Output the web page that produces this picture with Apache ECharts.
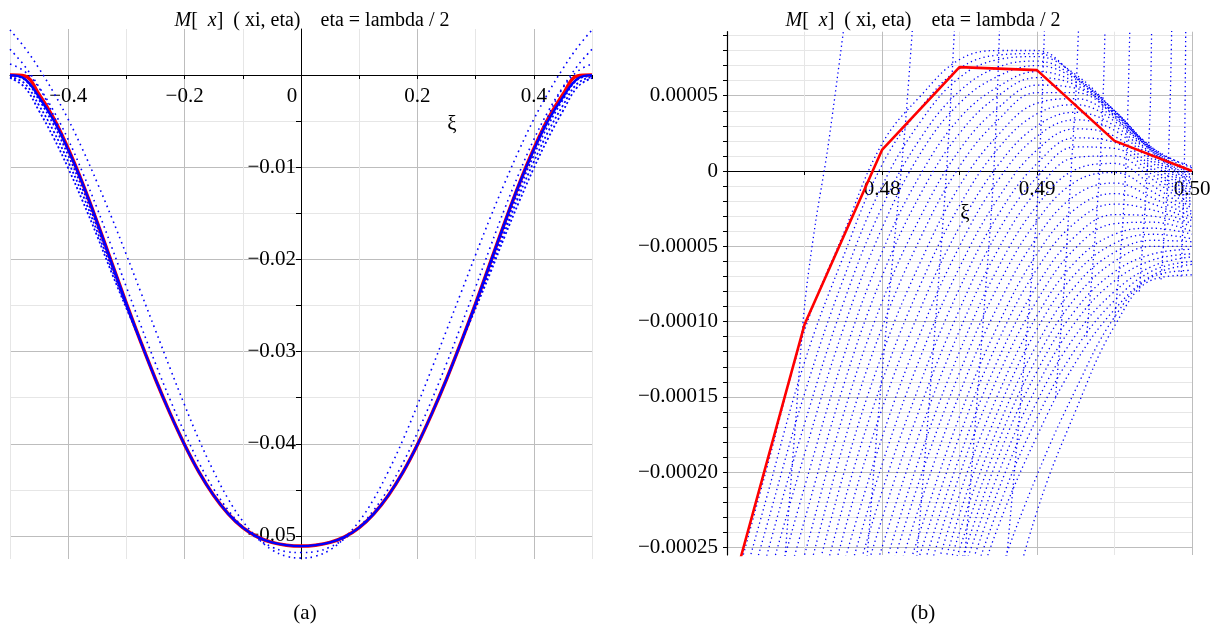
<!DOCTYPE html>
<html><head><meta charset="utf-8">
<script src="https://cdn.jsdelivr.net/npm/echarts@6/dist/echarts.min.js"></script>
<style>html,body{margin:0;padding:0;background:#fff}#c{width:1224px;height:626px}</style>
</head><body><div id="c"></div>
<script>
// ---------- panel (a): M_x(xi, eta), eta = lambda/2 ----------
const L_XI = [-0.5,-0.475,-0.45,-0.425,-0.4,-0.375,-0.35,-0.325,-0.3,-0.275,-0.25,-0.225,-0.2,-0.175,-0.15,-0.125,-0.1,-0.075,-0.05,-0.025,0,
  0.025,0.05,0.075,0.1,0.125,0.15,0.175,0.2,0.225,0.25,0.275,0.3,0.325,0.35,0.375,0.4,0.425,0.45,0.475,0.5];
const L_RED = [0.0000,-0.0001,-0.0021,-0.0047,-0.0080,-0.0118,-0.0160,-0.0204,-0.0248,-0.0290,-0.0330,-0.0367,-0.0401,-0.0431,-0.0456,-0.0476,-0.0491,-0.0501,-0.0507,-0.0510,-0.0511,
  -0.0510,-0.0507,-0.0501,-0.0491,-0.0476,-0.0456,-0.0431,-0.0401,-0.0367,-0.0330,-0.0290,-0.0248,-0.0204,-0.0160,-0.0118,-0.0080,-0.0047,-0.0021,-0.0001,0.0000];
const L_BAND = [0.0000,-0.0004,-0.0024,-0.0049,-0.0081,-0.0118,-0.0160,-0.0204,-0.0248,-0.0290,-0.0330,-0.0367,-0.0401,-0.0431,-0.0456,-0.0476,-0.0491,-0.0501,-0.0507,-0.0510,-0.0511,
  -0.0510,-0.0507,-0.0501,-0.0491,-0.0476,-0.0456,-0.0431,-0.0401,-0.0367,-0.0330,-0.0290,-0.0248,-0.0204,-0.0160,-0.0118,-0.0081,-0.0049,-0.0024,-0.0004,0.0000];
const L_A = [0.0049,0.0030,0.0007,-0.0019,-0.0048,-0.0081,-0.0117,-0.0155,-0.0195,-0.0236,-0.0277,-0.0318,-0.0358,-0.0396,-0.0430,-0.0460,-0.0484,-0.0502,-0.0515,-0.0522,-0.0524,
  -0.0522,-0.0515,-0.0502,-0.0484,-0.0460,-0.0430,-0.0396,-0.0358,-0.0318,-0.0277,-0.0236,-0.0195,-0.0155,-0.0117,-0.0081,-0.0048,-0.0019,0.0007,0.0030,0.0049];
const L_B = [0.0028,0.0010,-0.0013,-0.0039,-0.0070,-0.0106,-0.0145,-0.0187,-0.0230,-0.0272,-0.0313,-0.0352,-0.0388,-0.0421,-0.0449,-0.0472,-0.0490,-0.0503,-0.0512,-0.0517,-0.0518,
  -0.0517,-0.0512,-0.0503,-0.0490,-0.0472,-0.0449,-0.0421,-0.0388,-0.0352,-0.0313,-0.0272,-0.0230,-0.0187,-0.0145,-0.0106,-0.0070,-0.0039,-0.0013,0.0010,0.0028];
const L_C = [0.0012,0.0004,-0.0014,-0.0044,-0.0080,-0.0118,null,null,null,null,null,null,null,null,null,null,null,null,null,null,null,
  null,null,null,null,null,null,null,null,null,null,null,null,null,null,-0.0118,-0.0080,-0.0044,-0.0014,0.0004,0.0012];
const L_COMB1 = [-0.0001,-0.0005,-0.0027,-0.0054,-0.0087,-0.0124,-0.0165,-0.0207,-0.0249,-0.0290,null,null,null,null,null,null,null,null,null,null,null,
  null,null,null,null,null,null,null,null,null,null,-0.0290,-0.0249,-0.0207,-0.0165,-0.0124,-0.0087,-0.0054,-0.0027,-0.0005,-0.0001];
const L_COMB2 = [-0.0002,-0.0009,-0.0033,-0.0061,-0.0094,-0.0130,-0.0170,-0.0211,-0.0251,-0.0290,null,null,null,null,null,null,null,null,null,null,null,
  null,null,null,null,null,null,null,null,null,null,-0.0290,-0.0251,-0.0211,-0.0170,-0.0130,-0.0094,-0.0061,-0.0033,-0.0009,-0.0002];
const L_COMB3 = [-0.0003,-0.0013,-0.0039,-0.0068,-0.0101,-0.0137,-0.0175,-0.0215,-0.0253,-0.0290,null,null,null,null,null,null,null,null,null,null,null,
  null,null,null,null,null,null,null,null,null,null,-0.0290,-0.0253,-0.0215,-0.0175,-0.0137,-0.0101,-0.0068,-0.0039,-0.0013,-0.0003];
const L_XLABELS = [-0.4,-0.2,0,0.2,0.4];
const L_YLABELS = [-0.05,-0.04,-0.03,-0.02,-0.01];
const L_YTICKS = [-0.05,-0.045,-0.04,-0.035,-0.03,-0.025,-0.02,-0.015,-0.01,-0.005,0];

// ---------- panel (b): zoom near xi = 0.5, values in units of 1e-6 ----------
const R_XI = [0.470,0.475,0.480,0.485,0.490,0.495,0.500];
const R_RED = [-290,-102,14,69,67,20,0];
const RB_XI = [0.4700,0.4725,0.4750,0.4775,0.4800,0.4825,0.4850,0.4875,0.4900,0.4925,0.4950,0.4975,0.5000];
const FAN = [
  [-295,-200,-106,-42,18,50,74,80,80,62,36,14,3],
  [-312,-219,-127,-57,4,42,68,77,78,63,38,15,2],
  [-330,-238,-148,-72,-10,33,62,74,76,64,40,15,0],
  [-360,-258,-168,-88,-24,22,53,69,73,62,40,14,-2],
  [null,-278,-188,-105,-38,12,45,63,70,61,40,14,-3],
  [null,-302,-210,-124,-54,-2,35,56,66,59,40,13,-5],
  [null,-325,-232,-143,-70,-15,25,50,62,57,39,13,-6],
  [null,-350,-255,-162,-87,-30,14,42,57,55,38,12,-8],
  [null,null,-278,-182,-104,-44,3,34,52,52,37,12,-9],
  [null,null,-300,-202,-122,-60,-10,24,45,48,35,10,-11],
  [null,null,-322,-222,-140,-75,-23,15,38,44,33,9,-13],
  [null,null,-345,-242,-158,-91,-37,4,30,39,30,7,-15],
  [null,null,null,-262,-177,-107,-50,-6,23,34,27,5,-17],
  [null,null,null,-281,-195,-123,-64,-18,14,28,23,2,-19],
  [null,null,null,-300,-213,-140,-78,-29,5,22,19,0,-21],
  [null,null,null,-318,-231,-156,-92,-40,-4,16,15,-3,-23],
  [null,null,null,-335,-250,-172,-106,-52,-13,9,10,-6,-25],
  [null,null,null,null,-268,-188,-120,-64,-23,1,5,-10,-27],
  [null,null,null,null,-285,-203,-134,-76,-33,-7,-1,-14,-29],
  [null,null,null,null,-302,-220,-148,-89,-44,-16,-8,-18,-31],
  [null,null,null,null,-320,-238,-163,-102,-55,-25,-15,-22,-33],
  [null,null,null,null,-338,-253,-176,-113,-65,-34,-22,-26,-35],
  [null,null,null,null,-355,-268,-190,-125,-76,-43,-29,-30,-37],
  [null,null,null,null,null,-284,-202,-136,-86,-51,-35,-34,-40],
  [null,null,null,null,null,-300,-215,-148,-96,-60,-42,-38,-42],
  [null,null,null,null,null,-315,-228,-159,-105,-68,-48,-42,-45],
  [null,null,null,null,null,-330,-240,-170,-115,-76,-54,-46,-47],
  [null,null,null,null,null,-333,-251,-180,-124,-84,-60,-50,-50],
  [null,null,null,null,null,-335,-262,-190,-133,-92,-67,-55,-52],
  [null,null,null,null,null,null,-273,-201,-143,-100,-73,-59,-55],
  [null,null,null,null,null,null,-285,-212,-153,-109,-80,-63,-57],
  [null,null,null,null,null,null,-298,-224,-164,-118,-86,-66,-60],
  [null,null,null,null,null,null,-312,-236,-176,-127,-92,-69,-62],
  [null,null,null,null,null,null,-350,-270,-202,-145,-97,-70,-66],
  [null,null,null,null,null,null,-414,-320,-226,-159,-103,-72,-69]
];
const STEEP = [
  [[0.4737,-262],[0.4744,-170],[0.4750,-90],[0.4757,-35],[0.4765,15],[0.4776,100]],
  [[0.4790,-262],[0.4797,-170],[0.4804,-90],[0.4810,-25],[0.4815,30],[0.4820,100]],
  [[0.4822,-262],[0.4830,-160],[0.4836,-80],[0.4841,-10],[0.4844,40],[0.4847,100]],
  [[0.4853,-262],[0.4860,-170],[0.4866,-90],[0.4871,-20],[0.4874,40],[0.4876,100]],
  [[0.4880,-262],[0.4888,-170],[0.4895,-90],[0.4900,-25],[0.4903,40],[0.4905,100]],
  [[0.4912,-150],[0.4918,-70],[0.4922,0],[0.4925,50],[0.4927,100]],
  [[0.4932,-110],[0.4937,-50],[0.4941,10],[0.4943,60],[0.4944,100]],
  [[0.4950,-100],[0.4955,-40],[0.4958,20],[0.4960,100]],
  [[0.4966,-80],[0.4970,-20],[0.4973,40],[0.4974,100]],
  [[0.4980,-72],[0.4984,-10],[0.4986,50],[0.4987,100]],
  [[0.4993,-70],[0.4995,0],[0.4996,100]]
];
const R_XLABELS = [0.48,0.49,0.50];
const R_YLABELS = [-250,-200,-150,-100,-50,0,50];
const R_YTICKS = [-250,-240,-230,-220,-210,-200,-190,-180,-170,-160,-150,-140,-130,-120,-110,-100,-90,-80,-70,-60,-50,-40,-30,-20,-10,0,10,20,30,40,50,60,70,80,90];

const FONT = 'Liberation Serif';
const MAJ = '#bdbdbd', MIN = '#e6e6e6';
const BLUE = '#0000ff', RED = '#ff0000';
const TITLE = '{i|M}[  {i|x}]  ( xi, eta)    eta = lambda / 2';
const MINUS = '\u2212';
const FS = 21;

function pairs(xs, ys) { return xs.map((x, i) => [x, ys[i] == null ? '-' : ys[i]]); }
function lineS(xi, data, style, extra) {
  return Object.assign({type: 'line', xAxisIndex: xi, yAxisIndex: xi, data: data, symbol: 'none',
    showSymbol: false, silent: true, lineStyle: style, clip: true}, extra || {});
}
const txt = (size) => ({fontFamily: FONT, fontSize: size, color: '#000', fontWeight: 'normal'});

const series = [];
series.push(lineS(0, pairs(L_XI, L_RED), {color: RED, width: 3.5}, {smooth: 0.4, z: 2}));
series.push(lineS(0, pairs(L_XI, L_BAND), {color: BLUE, width: 2.4}, {smooth: 0.4, z: 3}));
[L_A, L_B, L_C].forEach(a => series.push(lineS(0, pairs(L_XI, a), {color: BLUE, width: 1.6, type: [1.6, 4]}, {smooth: 0.4, z: 4})));
[L_COMB1, L_COMB2, L_COMB3].forEach(a => series.push(lineS(0, pairs(L_XI, a), {color: BLUE, width: 1.8, type: [2, 2.5]}, {smooth: 0.4, z: 4})));
FAN.forEach(a => series.push(lineS(1, pairs(RB_XI, a), {color: BLUE, width: 1.3, type: [1.3, 3.2]}, {smooth: 0.4, z: 3})));
STEEP.forEach(a => series.push(lineS(1, a, {color: BLUE, width: 1.3, type: [1.3, 3.2]}, {smooth: 0.3, z: 3})));
series.push(lineS(1, pairs(R_XI, R_RED), {color: RED, width: 2.6}, {smooth: false, z: 6}));

const titleStyle = Object.assign(txt(20), {rich: {i: Object.assign(txt(20), {fontStyle: 'italic'})}});

const option = {
  animation: false,
  backgroundColor: '#fff',
  textStyle: {fontFamily: FONT},
  title: [
    {text: TITLE, left: 307, top: 6, textAlign: 'center', textStyle: titleStyle},
    {text: TITLE, left: 918, top: 6, textAlign: 'center', textStyle: titleStyle},
    {text: '(a)', left: 300, top: 598, textAlign: 'center', textStyle: txt(FS)},
    {text: '(b)', left: 918, top: 598, textAlign: 'center', textStyle: txt(FS)},
    {text: 'ξ', left: 447, top: 109, textAlign: 'center', textStyle: txt(FS)},
    {text: 'ξ', left: 960, top: 198, textAlign: 'center', textStyle: txt(FS)}
  ],
  grid: [
    {left: 10, top: 29, width: 582, height: 530, outerBoundsMode: 'none', containLabel: false},
    {left: 727, top: 31.7, width: 465, height: 523.3, outerBoundsMode: 'none', containLabel: false}
  ],
  xAxis: [
    {type: 'value', gridIndex: 0, min: -0.5, max: 0.5, interval: 0.1, position: 'bottom', offset: -484,
      axisLine: {onZero: false, lineStyle: {color: '#000', width: 1}},
      axisTick: {show: true, length: 4, lineStyle: {color: '#000'}},
      axisLabel: {customValues: L_XLABELS, margin: 11, color: '#000', fontFamily: FONT, fontSize: FS,
        formatter: v => Math.abs(v) < 1e-9 ? '{z|0}' : (v < 0 ? MINUS : '') + Math.abs(v).toFixed(1),
        rich: {z: Object.assign(txt(FS), {padding: [0, 18, 4, 0]})}},
      splitLine: {show: true, lineStyle: {color: [MIN, MAJ], width: 1}}},
    {type: 'value', gridIndex: 1, min: 0.47, max: 0.5, interval: 0.005, position: 'bottom', offset: -384,
      axisLine: {onZero: false, lineStyle: {color: '#000', width: 1}},
      axisTick: {show: true, length: 4, lineStyle: {color: '#000'}},
      axisLabel: {customValues: R_XLABELS, margin: 8, color: '#000', fontFamily: FONT, fontSize: FS,
        formatter: v => v.toFixed(2)},
      splitLine: {show: true, lineStyle: {color: [MAJ, MIN], width: 1}}}
  ],
  yAxis: [
    {type: 'value', gridIndex: 0, min: -0.0525, max: 0.005, position: 'left', offset: -291,
      axisLine: {onZero: false, lineStyle: {color: '#000', width: 1}},
      axisTick: {show: true, customValues: L_YTICKS, length: 5, lineStyle: {color: '#000'}},
      axisLabel: {customValues: L_YLABELS, margin: 5, color: '#000', fontFamily: FONT, fontSize: FS,
        formatter: v => MINUS + Math.abs(v).toFixed(2)},
      splitLine: {show: true, lineStyle: {color: [MAJ, MIN], width: 1}}},
    {type: 'value', gridIndex: 1, min: -255, max: 92.5, position: 'left',
      axisLine: {onZero: false, lineStyle: {color: '#000', width: 1.2}},
      axisTick: {show: true, customValues: R_YTICKS, length: 4, lineStyle: {color: '#000'}},
      axisLabel: {customValues: R_YLABELS, margin: 9, color: '#000', fontFamily: FONT, fontSize: FS,
        formatter: v => Math.abs(v) < 1e-9 ? '0' : (v < 0 ? MINUS : '') + (Math.abs(v) / 1e6).toFixed(5)},
      splitLine: {show: true, lineStyle: {color: [MAJ, MIN, MIN, MIN, MIN], width: 1}}}
  ],
  series: series
};
const chart = echarts.init(document.getElementById('c'), null, {renderer: 'canvas'});
chart.setOption(option);
</script></body></html>
